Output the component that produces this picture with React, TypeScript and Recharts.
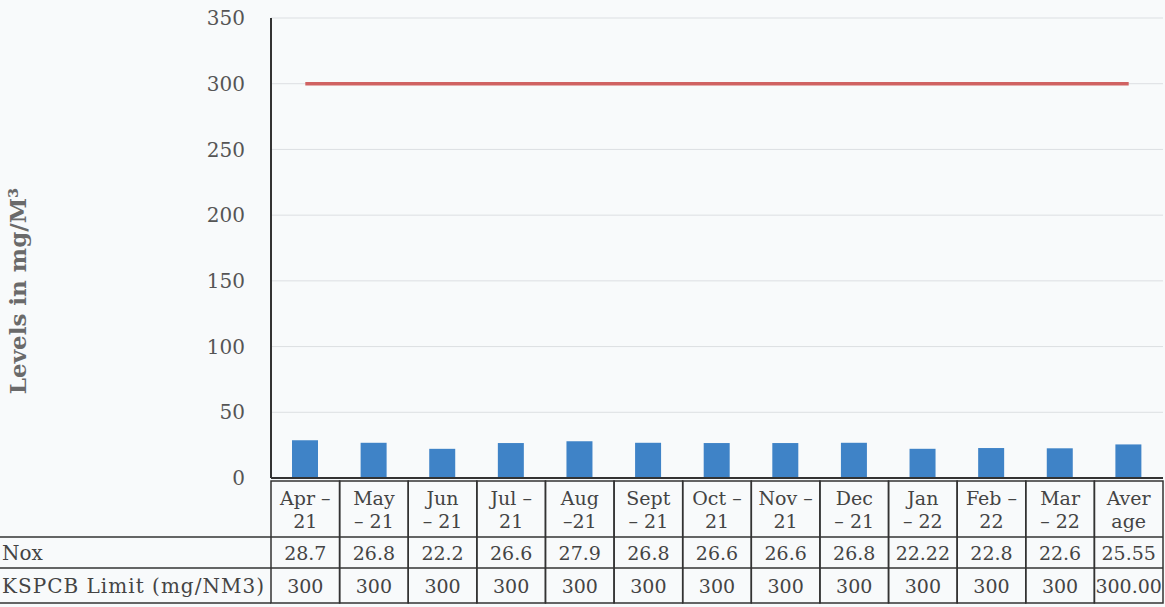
import React from 'react';
import { ComposedChart, Bar, Line, XAxis, YAxis, CartesianGrid } from 'recharts';

const categories = ['Apr – 21', 'May – 21', 'Jun – 21', 'Jul – 21', 'Aug –21', 'Sept – 21', 'Oct – 21', 'Nov – 21', 'Dec – 21', 'Jan – 22', 'Feb – 22', 'Mar – 22', 'Average'];
const categoryLines = [
  ['Apr –', '21'], ['May', '– 21'], ['Jun', '– 21'], ['Jul –', '21'], ['Aug', '–21'], ['Sept', '– 21'],
  ['Oct –', '21'], ['Nov –', '21'], ['Dec', '– 21'], ['Jan', '– 22'], ['Feb –', '22'], ['Mar', '– 22'], ['Aver', 'age'],
];
const noxValues = [28.7, 26.8, 22.2, 26.6, 27.9, 26.8, 26.6, 26.6, 26.8, 22.22, 22.8, 22.6, 25.55];
const noxLabels = ['28.7', '26.8', '22.2', '26.6', '27.9', '26.8', '26.6', '26.6', '26.8', '22.22', '22.8', '22.6', '25.55'];
const limitValues = [300, 300, 300, 300, 300, 300, 300, 300, 300, 300, 300, 300, 300];
const limitLabels = ['300', '300', '300', '300', '300', '300', '300', '300', '300', '300', '300', '300', '300.00'];
const yTicks = [0, 50, 100, 150, 200, 250, 300, 350];
const rowNames = ['Nox', 'KSPCB Limit (mg/NM3)'];

const data = categories.map((c, i) => ({ name: c, nox: noxValues[i], limit: limitValues[i] }));

const W = 1165;
const H = 607;
const LEFT = 271;
const RIGHT = 2;
const FONT = 'DejaVu Serif';
const TXT = '#444';
const BORDER = '#333';

const TableTick = (props: any) => {
  const { x, y, index } = props;
  const bw = (W - LEFT - RIGHT) / categories.length;
  const x0 = x - bw / 2;
  const top = y + 3;
  const r1 = top + 56;
  const r2 = r1 + 31;
  const r3 = r2 + 35;
  const lines = categoryLines[index] || [];
  const fs = 19;
  return (
    <g>
      {index === 0 && (
        <g>
          <line x1={0} x2={x0} y1={r1} y2={r1} stroke={BORDER} strokeWidth={1.5} />
          <line x1={0} x2={x0} y1={r2} y2={r2} stroke={BORDER} strokeWidth={1.5} />
          <line x1={0} x2={x0} y1={r3} y2={r3} stroke={BORDER} strokeWidth={1.5} />
          <text x={2} y={(r1 + r2) / 2 + 7} fontFamily={FONT} fontSize={20} fill={TXT}>{rowNames[0]}</text>
          <text x={2} y={(r2 + r3) / 2 + 7} fontFamily={FONT} fontSize={20} fill={TXT} textLength={262} lengthAdjust="spacing">{rowNames[1]}</text>
        </g>
      )}
      <rect x={x0} y={top} width={bw} height={r3 - top} fill="none" stroke={BORDER} strokeWidth={1.5} />
      <line x1={x0} x2={x0 + bw} y1={r1} y2={r1} stroke={BORDER} strokeWidth={1.5} />
      <line x1={x0} x2={x0 + bw} y1={r2} y2={r2} stroke={BORDER} strokeWidth={1.5} />
      <text x={x} y={top + 24} textAnchor="middle" fontFamily={FONT} fontSize={fs} fill={TXT}>{lines[0]}</text>
      <text x={x} y={top + 47} textAnchor="middle" fontFamily={FONT} fontSize={fs} fill={TXT}>{lines[1]}</text>
      <text x={x} y={(r1 + r2) / 2 + 7} textAnchor="middle" fontFamily={FONT} fontSize={fs} fill={TXT}>{noxLabels[index]}</text>
      <text x={x} y={(r2 + r3) / 2 + 7} textAnchor="middle" fontFamily={FONT} fontSize={fs} fill={TXT}>{limitLabels[index]}</text>
    </g>
  );
};

const YLabel = (props: any) => {
  const vb = props.viewBox || {};
  const cy = (vb.y ?? 18) + (vb.height ?? 460) / 2 + 43;
  return (
    <text x={26} y={cy} transform={`rotate(-90, 26, ${cy})`} textAnchor="middle" fontFamily={FONT} fontSize={23} fontWeight="bold" fill="#6a6a6a">
      Levels in mg/M³
    </text>
  );
};

export default function App() {
  return (
    <div style={{ position: 'absolute', left: 0, top: 0, width: W, height: H, background: '#f8fafb' }}>
      <ComposedChart width={W} height={H} data={data} margin={{ top: 18, right: RIGHT, bottom: 0, left: 0 }}>
        <CartesianGrid horizontal vertical={false} stroke="#dcdfe2" strokeWidth={1} />
        <XAxis
          dataKey="name"
          interval={0}
          height={129}
          tickSize={0}
          tickMargin={0}
          tickLine={false}
          axisLine={{ stroke: '#333', strokeWidth: 2 }}
          tick={<TableTick />}
        />
        <YAxis
          width={LEFT}
          domain={[0, 350]}
          ticks={yTicks}
          interval={0}
          tickLine={false}
          tickMargin={20}
          axisLine={{ stroke: '#333', strokeWidth: 2 }}
          tick={{ fontFamily: FONT, fontSize: 20, fill: '#555' }}
          label={<YLabel />}
        />
        <Bar dataKey="nox" fill="#3f83c7" barSize={26} isAnimationActive={false} />
        <Line dataKey="limit" stroke="#d06262" strokeWidth={3.5} dot={false} isAnimationActive={false} />
      </ComposedChart>
    </div>
  );
}
